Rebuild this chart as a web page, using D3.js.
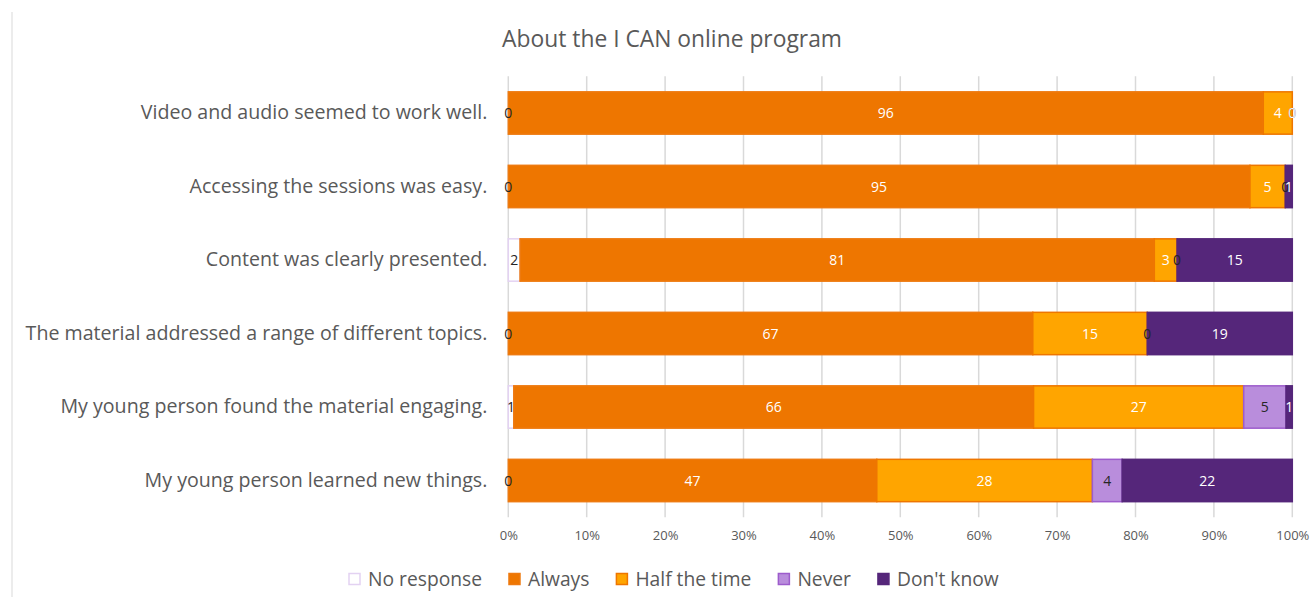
<!DOCTYPE html>
<html>
<head>
<meta charset="utf-8">
<script src="https://cdn.jsdelivr.net/npm/d3@7"></script>
<style>
  html, body { margin: 0; padding: 0; background: #ffffff; }
  svg { display: block; font-family: "Open Sans", Lato, sans-serif; }
</style>
</head>
<body>
<svg id="chart" width="1314" height="597"></svg>
<script>
// Survey statements (top to bottom) and the share of answers per response, in %
const categories = [
  "Video and audio seemed to work well.",
  "Accessing the sessions was easy.",
  "Content was clearly presented.",
  "The material addressed a range of different topics.",
  "My young person found the material engaging.",
  "My young person learned new things."
];
const noResponse  = [0,    0,    1.5,  0,    0.7,  0];
const always      = [96.3, 94.6, 80.9, 66.9, 66.3, 47.0];
const halfTheTime = [3.7,  4.5,  2.9,  14.6, 26.8, 27.5];
const never       = [0,    0,    0,    0,    5.4,  3.8];
const dontKnow    = [0,    0.9,  14.7, 18.5, 0.8,  21.7];

const seriesNames = ["No response", "Always", "Half the time", "Never", "Don't know"];
const tickValues = [0, 0.1, 0.2, 0.3, 0.4, 0.5, 0.6, 0.7, 0.8, 0.9, 1.0];
const chartTitle = "About the I CAN online program";

// styling per response
const fills   = ["#ffffff", "#ee7600", "#ffa500", "#b98ddc", "#55267a"];
const strokes = ["#e3d2f2", "#ee7a10", "#ee7600", "#9d5ccc", "#55267a"];
const labelColors = ["#262626", "#ffffff", "#ffffff", "#262626", "#ffffff"];
const FONT = "'Open Sans', Lato, sans-serif";

const rows = categories.map((c, i) => ({
  category: c,
  "No response": noResponse[i],
  "Always": always[i],
  "Half the time": halfTheTime[i],
  "Never": never[i],
  "Don't know": dontKnow[i]
}));

const svg = d3.select("#chart");
const W = 1314, H = 597;
const margin = { left: 508.3, right: 21.7, top: 76.25, bottom: 79.75 };

// scale a group of texts so that its widest member spans the given width
function fitWidth(sel, target) {
  let widest = 0;
  sel.each(function () { widest = Math.max(widest, this.getComputedTextLength()); });
  const fs = parseFloat(sel.attr("font-size"));
  if (widest > 0) sel.attr("font-size", (fs * target / widest).toFixed(2));
}

const x = d3.scaleLinear().domain([0, 100]).range([margin.left, W - margin.right]);
const y = d3.scaleBand().domain(categories)
  .range([margin.top, H - margin.bottom])
  .paddingInner(0.424).paddingOuter(0.212);

// chart-area edge on the left
svg.append("line")
  .attr("x1", 12).attr("x2", 12).attr("y1", 12).attr("y2", H)
  .attr("stroke", "#d9d9d9").attr("stroke-width", 1);

// title
const title = svg.append("text")
  .attr("x", 672).attr("y", 47)
  .attr("text-anchor", "middle")
  .attr("fill", "#595959")
  .attr("font-size", 20)
  .text(chartTitle);
fitWidth(title, 340);

// vertical gridlines
svg.append("g")
  .selectAll("line")
  .data(tickValues)
  .join("line")
  .attr("x1", d => x(d * 100)).attr("x2", d => x(d * 100))
  .attr("y1", margin.top).attr("y2", H - margin.bottom)
  .attr("stroke", "#d9d9d9").attr("stroke-width", 1.5);

// x axis tick labels
const xAxis = d3.axisBottom(x)
  .tickValues(tickValues.map(d => d * 100))
  .tickFormat(d => d3.format(".0%")(d / 100))
  .tickSize(0).tickPadding(0);
const xg = svg.append("g")
  .attr("transform", `translate(0,${H - margin.bottom + 14})`)
  .call(xAxis);
xg.select(".domain").remove();
xg.selectAll("text")
  .attr("font-family", FONT)
  .attr("font-size", 13)
  .attr("fill", "#595959");

// y axis category labels
const yAxis = d3.axisLeft(y).tickSize(0).tickPadding(21);
const yg = svg.append("g")
  .attr("transform", `translate(${margin.left},0)`)
  .call(yAxis);
yg.select(".domain").remove();
const catText = yg.selectAll("text")
  .attr("font-family", FONT)
  .attr("font-size", 18)
  .attr("fill", "#595959");
fitWidth(catText, 462);

// stacked bars
const stack = d3.stack().keys(seriesNames);
const stacked = stack(rows);

const layers = svg.append("g")
  .selectAll("g")
  .data(stacked)
  .join("g");

layers.selectAll("rect")
  .data((s, si) => s.map(d => ({ d, si })))
  .join("rect")
  .attr("x", o => x(o.d[0]))
  .attr("y", o => y(o.d.data.category))
  .attr("width", o => Math.max(0, x(o.d[1]) - x(o.d[0])))
  .attr("height", y.bandwidth())
  .attr("fill", o => fills[o.si])
  .attr("stroke", o => (o.d[1] - o.d[0]) > 0 ? strokes[o.si] : "none")
  .attr("stroke-width", 1.5);

// data labels, drawn in series order
const labels = svg.append("g")
  .selectAll("g")
  .data(stacked)
  .join("g");

labels.selectAll("text")
  .data((s, si) => s.map(d => ({ d, si, key: s.key })))
  .join("text")
  .attr("x", o => x((o.d[0] + o.d[1]) / 2))
  .attr("y", o => y(o.d.data.category) + y.bandwidth() / 2)
  .attr("dy", "0.36em")
  .attr("text-anchor", "middle")
  .attr("font-size", 14)
  .attr("fill", o => labelColors[o.si])
  .text(o => Math.round(o.d.data[o.key]));

// legend
const legend = svg.append("g").attr("transform", `translate(0,579)`);
const items = legend.selectAll("g")
  .data(seriesNames)
  .join("g");
items.append("rect")
  .attr("width", 11).attr("height", 11)
  .attr("y", -5.5)
  .attr("fill", (d, i) => fills[i])
  .attr("stroke", (d, i) => strokes[i])
  .attr("stroke-width", 1.5);
const legendText = items.append("text")
  .attr("x", 19)
  .attr("dy", "0.36em")
  .attr("font-size", 18)
  .attr("fill", "#595959")
  .text(d => d);
// size the legend from its first entry
{
  const first = legendText.filter((d, i) => i === 0).node();
  const w0 = first.getComputedTextLength();
  legendText.attr("font-size", (18 * 114 / w0).toFixed(2));
}

// lay legend items out side by side
let offset = 0;
const positions = [];
items.each(function () {
  const w = 19 + this.querySelector("text").getComputedTextLength();
  positions.push(offset);
  offset += w + 27;
});
const startX = 349;
items.attr("transform", (d, i) => `translate(${startX + positions[i]},0)`);
</script>
</body>
</html>
